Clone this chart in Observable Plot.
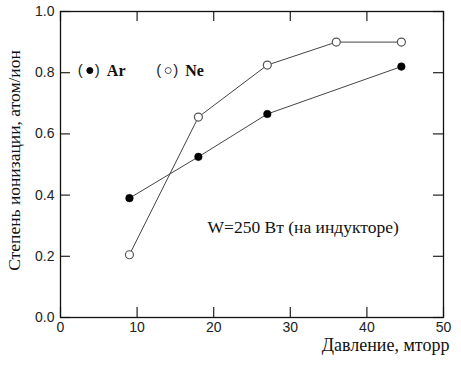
<!DOCTYPE html>
<html>
<head>
<meta charset="utf-8">
<script src="https://cdn.jsdelivr.net/npm/d3@7"></script>
<script src="https://cdn.jsdelivr.net/npm/@observablehq/plot@0.6"></script>
<style>
  html, body { margin: 0; padding: 0; background: white; }
</style>
</head>
<body>
<div id="chart"></div>
<script>
// ---- data ----
const arPressure = [9, 18, 27, 44.5];
const arIonization = [0.39, 0.525, 0.665, 0.82];
const nePressure = [9, 18, 27, 36, 44.5];
const neIonization = [0.205, 0.655, 0.825, 0.90, 0.90];
const xTicks = [0, 10, 20, 30, 40, 50];
const yTicks = [0, 0.2, 0.4, 0.6, 0.8, 1.0];
const xTitle = "Давление, мторр";
const yTitle = "Степень ионизации, атом/ион";
const note = "W=250 Вт (на индукторе)";
const legendItems = [
  {label: "Ar", filled: true, x: 3.83, y: 0.807},
  {label: "Ne", filled: false, x: 14.06, y: 0.807}
];
const noteAnchor = {x: 19.2, y: 0.294};

const ar = arPressure.map((p, i) => ({p, v: arIonization[i]}));
const ne = nePressure.map((p, i) => ({p, v: neIonization[i]}));

const serif = "Liberation Serif";
const sans = "Liberation Sans";

const chart = Plot.plot({
  width: 461,
  height: 367,
  marginLeft: 60,
  marginRight: 18,
  marginTop: 11,
  marginBottom: 50,
  x: {domain: [0, 50]},
  y: {domain: [0, 1]},
  style: {fontSize: "14px", color: "#222", background: "white"},
  marks: [
    Plot.axisX(xTicks, {tickSize: 0, tickPadding: 5, label: null, fontSize: 14, fontFamily: sans, fill: "#222"}),
    Plot.axisY(yTicks, {tickSize: 0, tickPadding: 6, label: null, fontSize: 14, fontFamily: sans, fill: "#222", tickFormat: d => d.toFixed(1)}),
    Plot.tickX(xTicks, {x: d => d, insetTop: 296, stroke: "#222", strokeWidth: 1.2}),
    Plot.tickX(xTicks, {x: d => d, insetBottom: 296, stroke: "#222", strokeWidth: 1.2}),
    Plot.tickY(yTicks, {y: d => d, insetRight: 373, stroke: "#222", strokeWidth: 1.2}),
    Plot.tickY(yTicks, {y: d => d, insetLeft: 373, stroke: "#222", strokeWidth: 1.2}),
    Plot.frame({stroke: "#111", strokeWidth: 1.3}),
    Plot.line(ne, {x: "p", y: "v", stroke: "#444", strokeWidth: 1}),
    Plot.line(ar, {x: "p", y: "v", stroke: "#444", strokeWidth: 1}),
    Plot.dot(ne, {x: "p", y: "v", r: 4, fill: "white", stroke: "#555", strokeWidth: 1.2}),
    Plot.dot(ar, {x: "p", y: "v", r: 3.8, fill: "black", stroke: "black", strokeWidth: 0.5}),
    // legend
    Plot.text(legendItems, {x: "x", y: "y", text: () => "(", dx: -9.5, fontFamily: sans, fontSize: 15, fill: "#222"}),
    Plot.text(legendItems, {x: "x", y: "y", text: () => ")", dx: 7.5, fontFamily: sans, fontSize: 15, fill: "#222"}),
    Plot.dot(legendItems, {x: "x", y: "y", r: 3, fill: d => d.filled ? "black" : "white", stroke: d => d.filled ? "black" : "#555", strokeWidth: 1}),
    Plot.text(legendItems, {x: "x", y: "y", text: "label", dx: 17, textAnchor: "start", fontFamily: serif, fontWeight: "bold", fontSize: 16, fill: "#111"}),
    // note
    Plot.text([note], {x: () => noteAnchor.x, y: () => noteAnchor.y, text: d => d, textAnchor: "start", fontFamily: serif, fontSize: 17.5, fill: "#111"}),
    // axis titles
    Plot.text([xTitle], {frameAnchor: "bottom-right", text: d => d, textAnchor: "end", dx: 6, dy: 33, fontFamily: serif, fontSize: 18, fill: "#111"}),
    Plot.text([yTitle], {frameAnchor: "left", text: d => d, textAnchor: "middle", rotate: -90, dx: -46, dy: -4, fontFamily: serif, fontSize: 17.5, fill: "#111"})
  ]
});
document.getElementById("chart").appendChild(chart);
</script>
</body>
</html>
